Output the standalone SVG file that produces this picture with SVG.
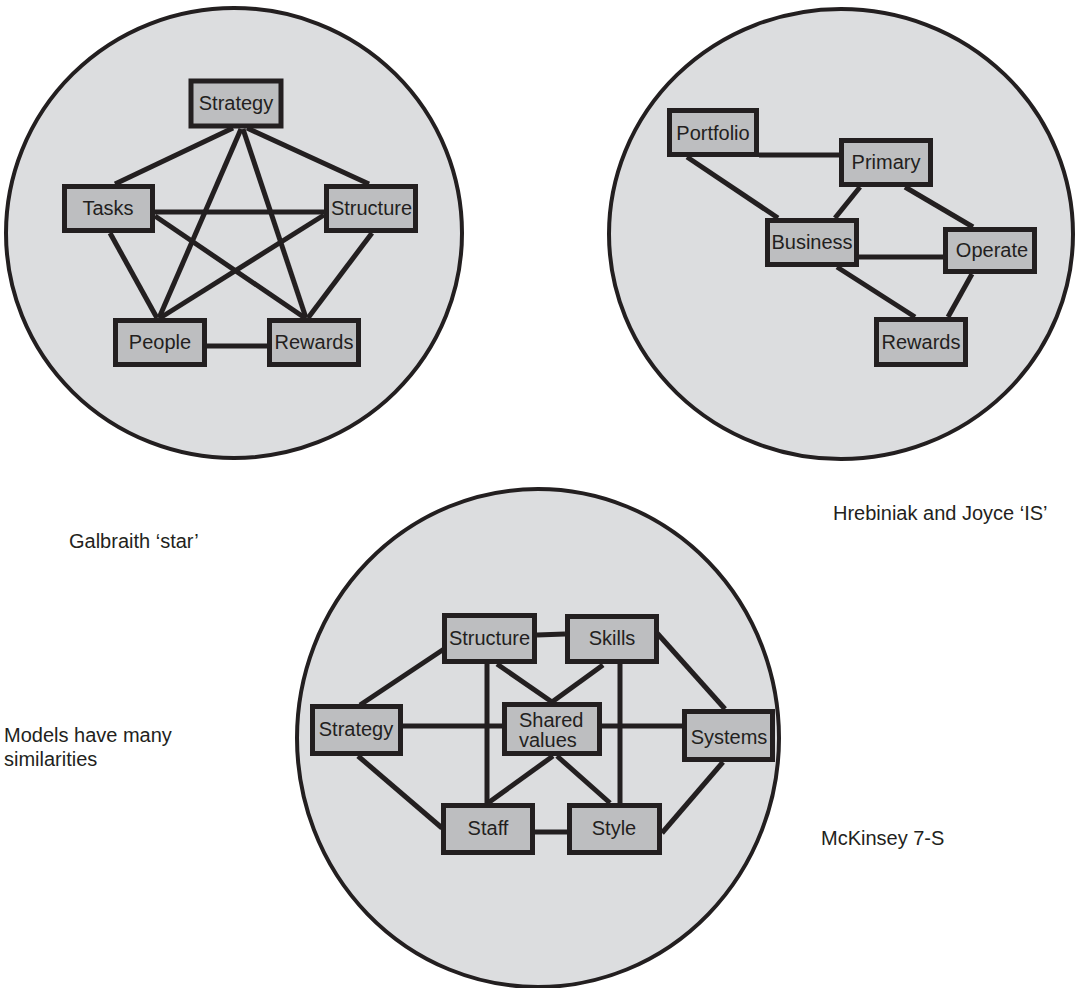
<svg xmlns="http://www.w3.org/2000/svg" width="1078" height="988" viewBox="0 0 1078 988">
<style>
.bg{fill:#dcdddf;stroke:#231f20;stroke-width:4}
.box{fill:#bdbec0;stroke:#231f20;stroke-width:5}
.ln{stroke:#231f20;stroke-width:5;fill:none;stroke-linecap:butt}
text{font-family:"Liberation Sans",Arial,sans-serif;font-size:20px;fill:#231f20}
.c{text-anchor:middle}
</style>
<rect width="1078" height="988" fill="#ffffff"/>
<g id="circles">
<ellipse class="bg" cx="234" cy="233" rx="228" ry="225"/>
<ellipse class="bg" cx="841" cy="234" rx="232" ry="225"/>
<ellipse class="bg" cx="538" cy="738" rx="241" ry="249"/>
</g>
<g id="connectors">
<!-- Galbraith -->
<line class="ln" x1="233" y1="128" x2="115" y2="184"/>
<line class="ln" x1="247" y1="128" x2="369" y2="184"/>
<line class="ln" x1="241" y1="129" x2="159" y2="318"/>
<line class="ln" x1="243" y1="129" x2="306" y2="318"/>
<line class="ln" x1="155" y1="212" x2="324" y2="212"/>
<line class="ln" x1="155" y1="216" x2="305" y2="318"/>
<line class="ln" x1="324" y1="215" x2="160" y2="318"/>
<line class="ln" x1="110" y1="233" x2="157" y2="318"/>
<line class="ln" x1="372" y1="233" x2="308" y2="318"/>
<line class="ln" x1="207" y1="346" x2="267" y2="346"/>
<!-- Hrebiniak -->
<line class="ln" x1="759" y1="155" x2="839" y2="155"/>
<line class="ln" x1="687" y1="157" x2="778" y2="218"/>
<line class="ln" x1="860" y1="187" x2="835" y2="218"/>
<line class="ln" x1="905" y1="187" x2="973" y2="227"/>
<line class="ln" x1="859" y1="257" x2="943" y2="257"/>
<line class="ln" x1="837" y1="267" x2="915" y2="317"/>
<line class="ln" x1="972" y1="274" x2="948" y2="317"/>
<!-- McKinsey -->
<line class="ln" x1="537" y1="635" x2="565" y2="634"/>
<line class="ln" x1="447" y1="647" x2="360" y2="705"/>
<line class="ln" x1="657" y1="633" x2="725" y2="709"/>
<line class="ln" x1="403" y1="726" x2="502" y2="726"/>
<line class="ln" x1="602" y1="726" x2="682" y2="726"/>
<line class="ln" x1="358" y1="756" x2="442" y2="828"/>
<line class="ln" x1="723" y1="762" x2="662" y2="833"/>
<line class="ln" x1="487" y1="664" x2="487" y2="803"/>
<line class="ln" x1="620" y1="664" x2="620" y2="803"/>
<line class="ln" x1="497" y1="664" x2="552" y2="702"/>
<line class="ln" x1="603" y1="665" x2="552" y2="702"/>
<line class="ln" x1="553" y1="756" x2="488" y2="803"/>
<line class="ln" x1="557" y1="756" x2="610" y2="803"/>
<line class="ln" x1="535" y1="832" x2="567" y2="832"/>
</g>
<g id="galbraith-strategy"><rect class="box" x="191" y="81" width="90" height="45"/><text class="c" x="236" y="110">Strategy</text></g>
<g id="galbraith-tasks"><rect class="box" x="64.5" y="186.5" width="88" height="44"/><text class="c" x="108" y="215">Tasks</text></g>
<g id="galbraith-structure"><rect class="box" x="326.5" y="186.5" width="89" height="44"/><text class="c" x="371.5" y="215">Structure</text></g>
<g id="galbraith-people"><rect class="box" x="115.5" y="320.5" width="89" height="44"/><text class="c" x="160" y="349">People</text></g>
<g id="galbraith-rewards"><rect class="box" x="269.5" y="320.5" width="89" height="44"/><text class="c" x="314" y="349">Rewards</text></g>

<g id="hj-portfolio"><rect class="box" x="669.5" y="110.5" width="87" height="44"/><text class="c" x="713" y="140">Portfolio</text></g>
<g id="hj-primary"><rect class="box" x="841.5" y="140.5" width="89" height="44"/><text class="c" x="886" y="169">Primary</text></g>
<g id="hj-business"><rect class="box" x="767.5" y="220.5" width="89" height="44"/><text class="c" x="812" y="249">Business</text></g>
<g id="hj-operate"><rect class="box" x="945.5" y="229.5" width="89" height="42"/><text class="c" x="992" y="257">Operate</text></g>
<g id="hj-rewards"><rect class="box" x="876.5" y="319.5" width="89" height="45"/><text class="c" x="921" y="349">Rewards</text></g>

<g id="mk-structure"><rect class="box" x="444.5" y="615.5" width="90" height="46"/><text class="c" x="489.5" y="645">Structure</text></g>
<g id="mk-skills"><rect class="box" x="567.5" y="616.5" width="89" height="45"/><text class="c" x="612" y="645">Skills</text></g>
<g id="mk-strategy"><rect class="box" x="312.5" y="706.5" width="88" height="47"/><text class="c" x="356" y="736">Strategy</text></g>
<g id="mk-shared-values"><rect class="box" x="504.5" y="704.5" width="95" height="49"/><text x="519" y="727">Shared</text><text x="519" y="747">values</text></g>
<g id="mk-systems"><rect class="box" x="684.5" y="711.5" width="88" height="48"/><text class="c" x="729" y="744">Systems</text></g>
<g id="mk-staff"><rect class="box" x="443.5" y="805.5" width="89" height="47"/><text class="c" x="488" y="835">Staff</text></g>
<g id="mk-style"><rect class="box" x="569.5" y="805.5" width="90" height="47"/><text class="c" x="614" y="835">Style</text></g>

<g id="captions">
<text x="69" y="548">Galbraith ‘star’</text>
<text x="833" y="520">Hrebiniak and Joyce ‘IS’</text>
<text x="4" y="742">Models have many</text>
<text x="4" y="766">similarities</text>
<text x="821" y="845">McKinsey 7-S</text>
</g>
</svg>
